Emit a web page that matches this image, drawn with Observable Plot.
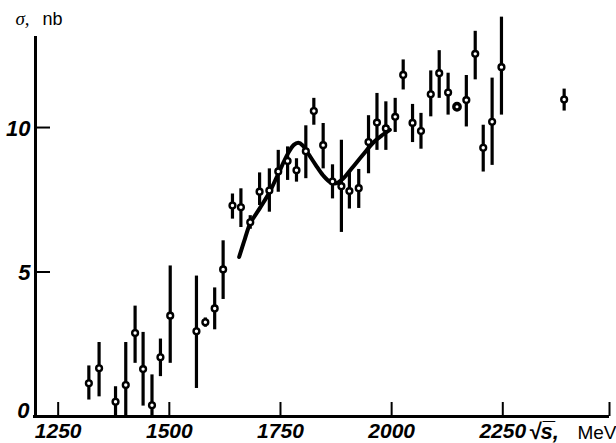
<!DOCTYPE html>
<html><head><meta charset="utf-8">
<script src="https://cdn.jsdelivr.net/npm/d3@7"></script>
<script src="https://cdn.jsdelivr.net/npm/@observablehq/plot@0.6"></script>
<style>body{margin:0;background:#fff}</style>
</head><body><div id="chart"></div>
<script>
// Measured points: energy (MeV), cross section (nb), error-bar bottom and top (nb)
const energy  = [1319,1342,1379,1402,1423,1441,1461,1480,1502,1561,1581,1602,1621,1642,1661,1682,1703,1725,1745,1766,1786,1807,1825,1846,1867,1887,1905,1926,1948,1967,1987,2008,2026,2047,2066,2088,2107,2127,2147,2168,2188,2206,2226,2247,2388];
const sigma   = [1.15,1.67,0.51,1.09,2.89,1.64,0.39,2.05,3.49,2.95,3.26,3.74,5.09,7.30,7.24,6.72,7.78,7.82,8.48,8.84,8.52,9.18,10.57,9.39,8.13,7.97,7.80,7.90,9.50,10.17,9.97,10.37,11.82,10.16,9.88,11.15,11.88,11.21,10.72,10.95,12.55,9.30,10.20,12.09,10.97];
const barLow  = [0.57,0.68,0,0,1.84,0.36,0,1.38,1.84,0.97,3.09,3.00,4.05,6.83,6.54,6.48,7.30,7.07,7.76,8.17,8.11,8.23,10.08,8.57,7.53,6.37,7.18,7.20,8.40,9.21,9.21,9.83,11.30,9.48,9.25,10.37,11.01,10.43,null,10.02,11.65,8.46,8.69,10.43,10.57];
const barHigh = [1.75,2.56,1.03,2.56,3.82,2.91,1.44,2.68,5.21,4.86,3.41,4.45,6.08,7.70,7.88,6.95,8.43,8.57,9.21,9.33,8.92,10.06,11.01,10.14,8.71,9.56,8.46,8.55,10.41,11.18,10.89,11.01,12.34,10.80,10.49,11.96,12.66,11.88,null,11.80,13.33,10.08,11.71,13.82,11.33];

// Fitted curve
const curveE     = [1657,1670,1682,1704,1725,1745,1766,1780,1790,1800,1814,1829,1846,1862,1875,1890,1910,1935,1960,1980,1996];
const curveSigma = [5.52,6.15,6.68,7.22,7.75,8.40,9.08,9.40,9.47,9.38,9.06,8.71,8.34,8.11,8.07,8.22,8.58,9.05,9.50,9.75,9.92];

// Axes
const xTicks = [1250,1500,1750,2000,2250];
const yTicks = [5,10];
const xDomain = [1199,2490];
const yDomain = [0,14.05];
const yAxisTop = 13.15;

const points = energy.map((e,i)=>({e, s: sigma[i], lo: barLow[i], hi: barHigh[i]}));
const curve = curveE.map((e,i)=>({e, s: curveSigma[i]}));

const numFont = "'Liberation Sans','Arimo',sans-serif";
const sansFont = "'Liberation Sans','Arimo',sans-serif";

const chart = Plot.plot({
  width: 616, height: 443,
  marginLeft: 35, marginRight: 7, marginTop: 10, marginBottom: 27,
  x: {domain: xDomain, axis: null},
  y: {domain: yDomain, axis: null},
  style: {background: "white", overflow: "visible"},
  marks: [
    // axis lines
    Plot.ruleY([0], {stroke: "black", strokeWidth: 3, insetLeft: -2}),
    Plot.ruleX([xDomain[0]], {y1: 0, y2: yAxisTop, stroke: "black", strokeWidth: 3}),
    // x ticks (pointing up) incl. end tick
    Plot.ruleX([...xTicks, xDomain[1]], {x: d=>d, y1: 0, y2: 0, insetTop: -14, stroke: "black", strokeWidth: 2}),
    // y ticks (pointing right)
    Plot.ruleY(yTicks, {y: d=>d, x1: xDomain[0], x2: xDomain[0], insetRight: -15, stroke: "black", strokeWidth: 2}),
    // tick labels
    Plot.text(xTicks, {x: d=>d, y: 0, text: d=>String(d), dy: 21, lineAnchor: "bottom", fontFamily: numFont, fontSize: 21, fontWeight: "bold", fontStyle: "italic", fill: "black"}),
    Plot.text(yTicks, {y: d=>d, x: xDomain[0], text: d=>String(d), dx: -5, dy: 1, textAnchor: "end", fontFamily: numFont, fontSize: 22, fontWeight: "bold", fontStyle: "italic", fill: "black"}),
    Plot.text([0], {y: d=>d, x: xDomain[0], text: d=>String(d), dx: -6, dy: 1, textAnchor: "end", lineAnchor: "bottom", fontFamily: numFont, fontSize: 22, fontWeight: "bold", fontStyle: "italic", fill: "black"}),
    // axis titles
    Plot.text(["σ,"], {frameAnchor: "top-left", text: d=>d, dx: -20, dy: 14, textAnchor: "start", lineAnchor: "bottom", fontFamily: "'Liberation Serif',serif", fontStyle: "italic", fontSize: 19, fill: "black"}),
    Plot.text(["nb"], {frameAnchor: "top-left", text: d=>d, dx: 7, dy: 14, textAnchor: "start", lineAnchor: "bottom", fontFamily: sansFont, fontSize: 18, fill: "black"}),
    Plot.text(["\u221As\u0305,"], {frameAnchor: "bottom-right", text: d=>d, dx: -81, dy: 22, textAnchor: "start", lineAnchor: "bottom", fontFamily: sansFont, fontSize: 22, fontWeight: "bold", fontStyle: "italic", fill: "black"}),
    Plot.text(["MeV"], {frameAnchor: "bottom-right", text: d=>d, dx: 7, dy: 22, textAnchor: "end", lineAnchor: "bottom", fontFamily: sansFont, fontSize: 19, fill: "black"}),
    // curve
    Plot.line(curve, {x: "e", y: "s", curve: "catmull-rom", stroke: "black", strokeWidth: 4}),
    // error bars
    Plot.ruleX(points.filter(d=>d.hi!=null), {x: "e", y1: "lo", y2: "hi", stroke: "black", strokeWidth: 3.2}),
    // points
    Plot.dot(points.filter(d=>d.hi!=null), {x: "e", y: "s", r: 2.9, fill: "white", stroke: "black", strokeWidth: 2.4}),
    Plot.dot(points.filter(d=>d.hi==null), {x: "e", y: "s", r: 3.2, fill: "white", stroke: "black", strokeWidth: 3.4})
  ]
});
document.getElementById("chart").appendChild(chart);
</script>
</body></html>
